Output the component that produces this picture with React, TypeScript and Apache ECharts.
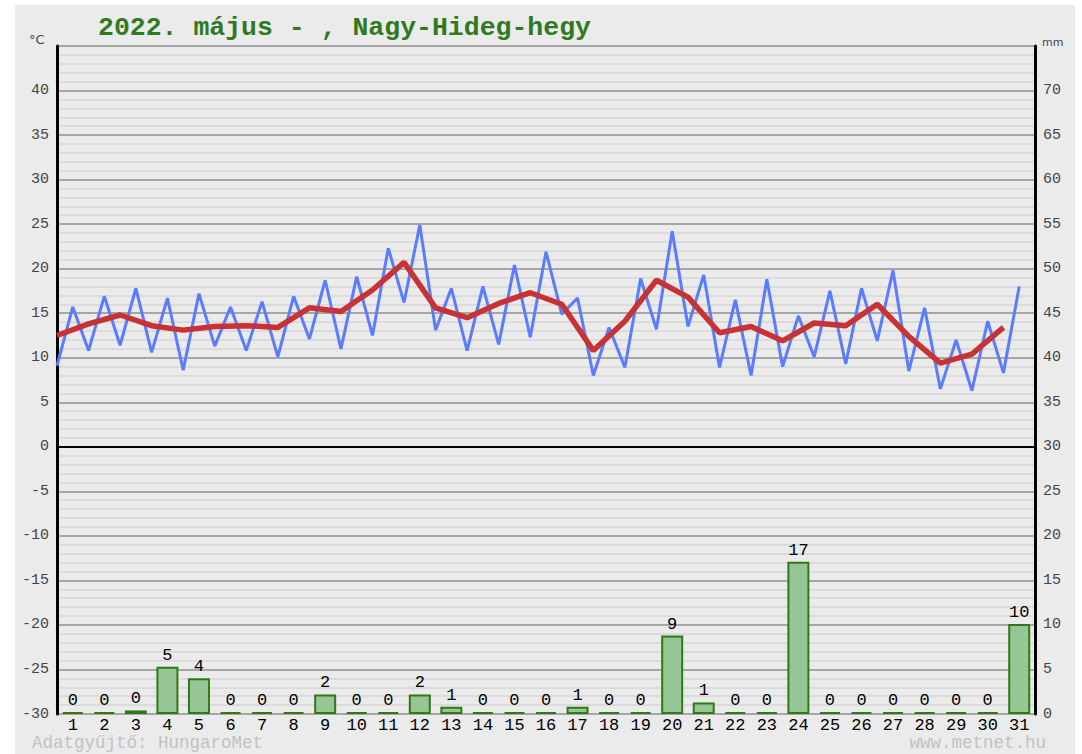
import React, { useEffect, useRef } from "react";
import * as echarts from "echarts";

const days = Array.from({ length: 31 }, (_, i) => String(i + 1));
const tMin = [9.1, 10.8, 11.4, 10.6, 8.6, 11.3, 10.8, 10.1, 12.1, 11.0, 12.5, 16.2, 13.1, 10.8, 11.5, 12.3, 14.9, 8.0, 8.9, 13.2, 13.5, 8.9, 8.0, 9.0, 10.1, 9.3, 11.9, 8.5, 6.5, 6.3, 8.3];
const tMax = [15.7, 16.9, 17.8, 16.7, 17.2, 15.7, 16.3, 16.9, 18.7, 19.1, 22.3, 24.9, 17.8, 18.0, 20.4, 21.9, 16.7, 13.4, 18.9, 24.2, 19.3, 16.5, 18.8, 14.7, 17.5, 17.8, 19.8, 15.6, 12.0, 14.1, 18.0];
const tMean = [12.5, 13.8, 14.8, 13.6, 13.1, 13.5, 13.6, 13.4, 15.6, 15.2, 17.6, 20.7, 15.6, 14.5, 16.1, 17.3, 16.0, 10.8, 14.1, 18.7, 16.8, 12.8, 13.5, 11.9, 13.9, 13.6, 16.0, 12.4, 9.4, 10.4, 13.4];
const precip = [0, 0, 0.4, 5.3, 4.0, 0, 0, 0, 2.2, 0, 0, 2.2, 0.8, 0, 0, 0, 0.8, 0, 0, 8.8, 1.3, 0, 0, 17.1, 0, 0, 0, 0, 0, 0, 10.1];

const titleText = "2022. május - , Nagy-Hideg-hegy";
const leftUnit = "°C";
const rightUnit = "mm";
const footerLeft = "Adatgyűjtő: HungaroMet";
const footerRight = "www.metnet.hu";

export default function App() {
  const ref = useRef<HTMLDivElement>(null);
  useEffect(() => {
    if (!ref.current) return;
    const chart = echarts.init(ref.current, null, { renderer: "svg" });
    const blue: number[][] = [];
    tMin.forEach((v, i) => {
      blue.push([i, v]);
      blue.push([i + 0.5, tMax[i]]);
    });
    const red = tMean.map((v, i) => [i, v]);
    const mono = "Liberation Mono";
    chart.setOption({
      animation: false,
      backgroundColor: "transparent",
      graphic: [
        { type: "rect", z: -10, shape: { x: 15, y: 5, width: 1060, height: 749 }, style: { fill: "#ebebeb" } },
        { type: "text", x: 98, y: 14, style: { text: titleText, font: `bold 26.5px "${mono}"`, fill: "#2f7a1f" } },
        { type: "text", x: 29, y: 33, style: { text: leftUnit, font: `13px "DejaVu Sans"`, fill: "#444" } },
        { type: "text", x: 1042, y: 37, style: { text: rightUnit, font: `11px "DejaVu Sans"`, fill: "#444" } },
        { type: "text", x: 32, y: 734, style: { text: footerLeft, font: `17.5px "${mono}"`, fill: "#c2c2c2" } },
        { type: "text", x: 1046, y: 734, style: { text: footerRight, font: `17.5px "${mono}"`, fill: "#c2c2c2", align: "right" } },
      ],
      grid: { left: 57, right: 47, top: 46, bottom: 40, containLabel: false },
      xAxis: [
        {
          type: "category",
          data: days,
          axisLine: { show: false },
          axisTick: { show: false },
          axisLabel: { color: "#000", fontFamily: mono, fontSize: 17, margin: 3 },
          splitLine: { show: false },
        },
        { type: "value", min: 0, max: 31, show: false },
      ],
      yAxis: [
        {
          type: "value",
          min: -30,
          max: 45,
          interval: 5,
          position: "left",
          axisLine: { show: true, lineStyle: { color: "#000", width: 3 } },
          axisTick: { show: false },
          axisLabel: {
            color: "#444",
            fontFamily: mono,
            fontSize: 15,
            margin: 8,
            formatter: (v: number) => (v === 45 ? "" : String(v)),
          },
          splitLine: { show: true, lineStyle: { color: "#a6a6a6", width: 2 } },
          minorTick: { show: false, splitNumber: 5 },
          minorSplitLine: { show: true, lineStyle: { color: "#dbdbdb", width: 2 } },
        },
        {
          type: "value",
          min: 0,
          max: 75,
          interval: 5,
          position: "right",
          axisLine: { show: true, lineStyle: { color: "#000", width: 3 } },
          axisTick: { show: false },
          axisLabel: {
            color: "#444",
            fontFamily: mono,
            fontSize: 15,
            margin: 8,
            formatter: (v: number) => (v === 75 ? "" : String(v)),
          },
          splitLine: { show: false },
        },
      ],
      series: [
        {
          type: "bar",
          xAxisIndex: 0,
          yAxisIndex: 1,
          data: precip,
          barWidth: 22,
          barMinHeight: 2,
          itemStyle: { color: "#96c596", borderColor: "#2f7a14", borderWidth: 2 },
          label: {
            show: true,
            position: "top",
            distance: 3,
            color: "#000",
            fontFamily: mono,
            fontSize: 17,
            formatter: (p: any) => String(Math.round(p.value)),
          },
          z: 2,
        },
        {
          type: "line",
          xAxisIndex: 1,
          yAxisIndex: 0,
          data: blue,
          symbol: "none",
          lineStyle: { color: "#5b7cff", width: 3 },
          z: 3,
        },
        {
          type: "line",
          xAxisIndex: 1,
          yAxisIndex: 0,
          data: red,
          symbol: "none",
          lineStyle: { color: "#c83232", width: 5.5 },
          z: 4,
          markLine: {
            silent: true,
            symbol: "none",
            label: { show: false },
            lineStyle: { color: "#000", width: 2, type: "solid" },
            data: [{ yAxis: 0 }],
          },
        },
      ],
    });
    return () => chart.dispose();
  }, []);
  return (
    <div
      ref={ref}
      style={{ position: "absolute", left: 0, top: 0, width: 1082, height: 754, background: "#fff" }}
    />
  );
}
